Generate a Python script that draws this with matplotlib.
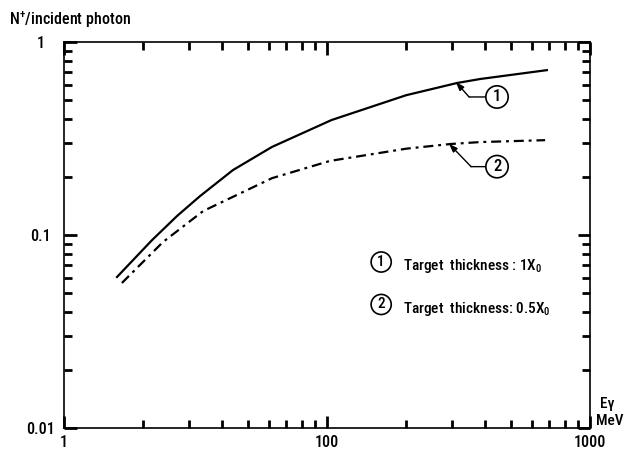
import matplotlib
matplotlib.use("Agg")
import matplotlib.pyplot as plt
from matplotlib.ticker import FixedLocator, NullFormatter

FONT = ["Roboto Condensed", "Liberation Sans", "DejaVu Sans"]
plt.rcParams["font.family"] = FONT
plt.rcParams["font.weight"] = 500
plt.rcParams["mathtext.fontset"] = "custom"
plt.rcParams["mathtext.rm"] = "Roboto Condensed:medium"
plt.rcParams["mathtext.default"] = "rm"

# Positron yield per incident photon vs photon energy
energy_1x0 = [15.8, 21.6, 27.0, 32.9, 43.9, 61.8, 104.0, 200.0, 312.0, 382.0, 692.0]
yield_1x0 = [0.060, 0.094, 0.126, 0.159, 0.217, 0.286, 0.394, 0.530, 0.613, 0.643, 0.716]

energy_05x0 = [16.6, 23.8, 33.8, 61.8, 102.6, 200.0, 294.0, 382.0, 675.0]
yield_05x0 = [0.0564, 0.092, 0.133, 0.197, 0.242, 0.280, 0.296, 0.303, 0.310]

x_ticks = [10, 100, 1000]
x_ticklabels = ["1", "100", "1000"]
y_ticks = [0.01, 0.1, 1]
y_ticklabels = ["0.01", "0.1", "1"]

fig = plt.figure(figsize=(6.28, 4.54), dpi=100)
ax = fig.add_axes([0.1019, 0.0573, 0.8376, 0.8502])
ax.set_xscale("log")
ax.set_yscale("log")
ax.set_xlim(10, 1000)
ax.set_ylim(0.01, 1)

ax.plot(energy_1x0, yield_1x0, color="black", lw=1.6, solid_capstyle="butt")
ax.plot(energy_05x0, yield_05x0, color="black", lw=1.6,
        linestyle=(0, (4.5, 2.2, 1.3, 2.2)))

# ticks: decades major, 2..9 minor, all pointing inward on every side
minor_x = [m * d for d in (10, 100) for m in range(2, 10)]
minor_y = [m * d for d in (0.01, 0.1) for m in range(2, 10)]
ax.xaxis.set_major_locator(FixedLocator(x_ticks))
ax.xaxis.set_minor_locator(FixedLocator(minor_x))
ax.yaxis.set_major_locator(FixedLocator(y_ticks))
ax.yaxis.set_minor_locator(FixedLocator(minor_y))
ax.set_xticklabels(x_ticklabels)
ax.set_yticklabels(y_ticklabels)
ax.xaxis.set_minor_formatter(NullFormatter())
ax.yaxis.set_minor_formatter(NullFormatter())
ax.tick_params(which="both", direction="in", top=True, right=True,
               bottom=True, left=True, color="black", labelsize=11.5)
ax.tick_params(which="major", length=9, width=2.0)
ax.tick_params(which="minor", length=6, width=2.0)
ax.tick_params(axis="x", pad=5)
ax.tick_params(axis="y", pad=17)
for lbl in ax.get_yticklabels():
    lbl.set_horizontalalignment("center")
for sp in ax.spines.values():
    sp.set_linewidth(1.2)

# curve labels with leaders
def leader(tip, bend, circle, num):
    ax.annotate("", xy=tip, xytext=bend,
                arrowprops=dict(arrowstyle="-|>,head_length=0.5,head_width=0.18",
                                color="black", lw=1.0, shrinkA=0, shrinkB=0))
    ax.annotate(num, xy=bend, xytext=circle, fontsize=12, ha="center", va="center",
                bbox=dict(boxstyle="circle,pad=0.22", fc="white", ec="black", lw=1.2),
                arrowprops=dict(arrowstyle="-", color="black", lw=1.0,
                                shrinkA=0, shrinkB=0))

leader((309, 0.62), (347, 0.519), (443, 0.519), "1")
leader((291, 0.297), (353, 0.226), (443, 0.226), "2")

# key
ax.text(0.603, 0.430, "1", transform=ax.transAxes, fontsize=11,
        ha="center", va="center",
        bbox=dict(boxstyle="circle,pad=0.2", fc="white", ec="black", lw=1.2))
ax.text(0.603, 0.320, "2", transform=ax.transAxes, fontsize=11,
        ha="center", va="center",
        bbox=dict(boxstyle="circle,pad=0.2", fc="white", ec="black", lw=1.2))
ax.text(0.645, 0.420, r"Target  thickness : 1X$_0$", transform=ax.transAxes,
        fontsize=11, ha="left", va="center")
ax.text(0.645, 0.308, r"Target  thickness: 0.5X$_0$", transform=ax.transAxes,
        fontsize=11, ha="left", va="center")

# axis titles
fig.text(9 / 628, 1 - 20 / 454, r"N$^{+}$/incident photon", fontsize=11.5,
         ha="left", va="center")
fig.text(607 / 628, 1 - 404 / 454, "Eγ", fontsize=11, ha="center", va="center")
fig.text(610 / 628, 1 - 421 / 454, "MeV", fontsize=11, ha="center", va="center")

fig.savefig("out.png", dpi=100)
